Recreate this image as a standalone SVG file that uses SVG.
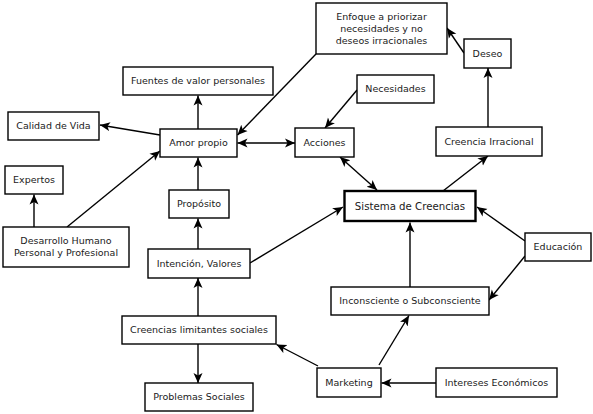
<svg xmlns="http://www.w3.org/2000/svg" width="593" height="414" viewBox="0 0 593 414">
<defs>
<marker id="ah" markerUnits="userSpaceOnUse" markerWidth="12" markerHeight="11" refX="10" refY="5" orient="auto-start-reverse" viewBox="0 0 12 11">
<path d="M0,0.5 L10,5 L0,9.5 L2.5,5 Z" fill="#000"/>
</marker>
<style>
.box{fill:#fff;stroke:#000;stroke-width:1.4}
.main{fill:#fff;stroke:#000;stroke-width:2.4}
.t{font-family:"DejaVu Sans",sans-serif;font-size:9.5px;fill:#1a1a1a;text-anchor:middle}
.tm{font-family:"DejaVu Sans",sans-serif;font-size:10.2px;fill:#1a1a1a;text-anchor:middle}
.c line{stroke:#000;stroke-width:1.4;fill:none;marker-end:url(#ah)}
.c line.bi{marker-start:url(#ah)}
</style>
</defs>
<rect width="593" height="414" fill="#fff"/>
<g class="c" id="connectors">
<line x1="198" y1="129" x2="198" y2="95.5"/>
<line x1="160" y1="135" x2="100" y2="125"/>
<line x1="67" y1="227" x2="160" y2="151"/>
<line x1="34" y1="227" x2="34" y2="194.5"/>
<line x1="198" y1="190" x2="198" y2="157.5"/>
<line class="bi" x1="237.5" y1="143" x2="295" y2="143"/>
<line x1="316" y1="54" x2="237.5" y2="135"/>
<line x1="357" y1="90" x2="325" y2="128"/>
<line x1="464" y1="53" x2="447" y2="28"/>
<line x1="488" y1="127" x2="488" y2="68"/>
<line x1="443" y1="191" x2="488" y2="156"/>
<line class="bi" x1="340" y1="157" x2="377" y2="190"/>
<line x1="250" y1="263" x2="343" y2="207"/>
<line x1="198" y1="249" x2="198" y2="218.5"/>
<line x1="198" y1="316" x2="198" y2="278"/>
<line x1="198" y1="344" x2="198" y2="383"/>
<line x1="318" y1="366" x2="276.5" y2="344.5"/>
<line x1="379" y1="365" x2="409" y2="315.5"/>
<line x1="410" y1="287" x2="410" y2="222.5"/>
<line x1="525" y1="241" x2="477" y2="207"/>
<line x1="525" y1="256" x2="489" y2="300"/>
<line x1="436" y1="383" x2="381.5" y2="383"/>
</g>
<g id="enfoque"><rect class="box" x="316" y="3" width="131" height="51"/><text class="t" x="381.5" y="19.5">Enfoque a priorizar</text><text class="t" x="381.5" y="31.5">necesidades y no</text><text class="t" x="381.5" y="43.5">deseos irracionales</text></g>
<g id="deseo"><rect class="box" x="464" y="39" width="47" height="29"/><text class="t" x="487.5" y="56.8">Deseo</text></g>
<g id="fuentes"><rect class="box" x="123" y="67" width="150" height="28"/><text class="t" x="198" y="84.3">Fuentes de valor personales</text></g>
<g id="necesidades"><rect class="box" x="357" y="75" width="77" height="28"/><text class="t" x="395.5" y="92.3">Necesidades</text></g>
<g id="calidad"><rect class="box" x="8" y="112" width="91" height="28"/><text class="t" x="53.5" y="129.3">Calidad de Vida</text></g>
<g id="amor"><rect class="box" x="160" y="129" width="77" height="28"/><text class="t" x="198.5" y="146.3">Amor propio</text></g>
<g id="acciones"><rect class="box" x="295" y="128" width="59" height="29"/><text class="t" x="324.5" y="145.8">Acciones</text></g>
<g id="creencia-irracional"><rect class="box" x="436" y="127" width="106" height="29"/><text class="t" x="489" y="144.8">Creencia Irracional</text></g>
<g id="expertos"><rect class="box" x="5" y="166" width="58" height="28"/><text class="t" x="34" y="183.3">Expertos</text></g>
<g id="proposito"><rect class="box" x="169" y="190" width="60" height="28"/><text class="t" x="199" y="207.3">Propósito</text></g>
<g id="sistema"><rect class="main" x="344.5" y="191" width="131" height="30"/><text class="tm" x="410" y="209.6">Sistema de Creencias</text></g>
<g id="desarrollo"><rect class="box" x="3" y="227" width="126" height="40"/><text class="t" x="66" y="244">Desarrollo Humano</text><text class="t" x="66" y="255.7">Personal y Profesional</text></g>
<g id="educacion"><rect class="box" x="525" y="233" width="66" height="28"/><text class="t" x="558" y="250.3">Educación</text></g>
<g id="intencion"><rect class="box" x="148" y="249" width="102" height="29"/><text class="t" x="199" y="266.8">Intención, Valores</text></g>
<g id="inconsciente"><rect class="box" x="331" y="287" width="158" height="28"/><text class="t" x="410" y="304.3">Inconsciente o Subconsciente</text></g>
<g id="creencias-limitantes"><rect class="box" x="122" y="316" width="154" height="28"/><text class="t" x="199" y="333.3">Creencias limitantes sociales</text></g>
<g id="marketing"><rect class="box" x="317" y="368" width="64" height="29"/><text class="t" x="349" y="385.8">Marketing</text></g>
<g id="intereses"><rect class="box" x="436" y="368" width="121" height="29"/><text class="t" x="496.5" y="385.8">Intereses Económicos</text></g>
<g id="problemas"><rect class="box" x="145" y="383" width="108" height="28"/><text class="t" x="199" y="400.3">Problemas Sociales</text></g>
</svg>
